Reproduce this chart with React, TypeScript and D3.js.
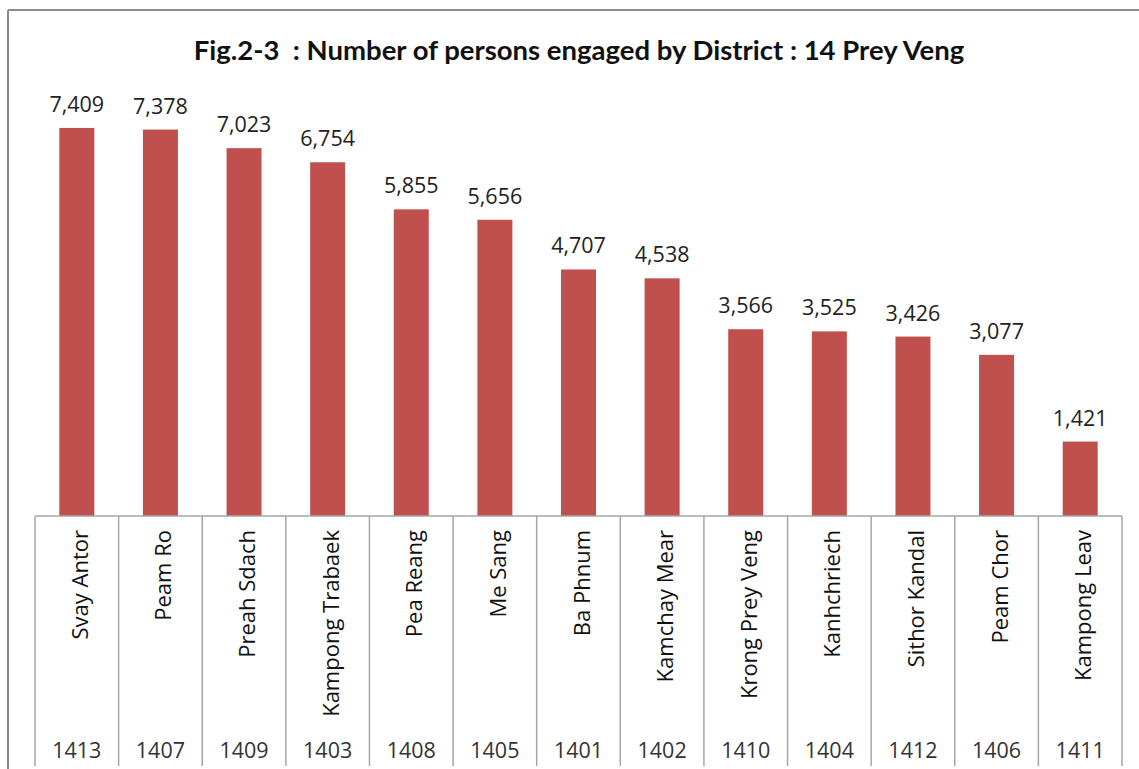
import React from "react";
import * as d3 from "d3";

const districts = [
  "Svay Antor", "Peam Ro", "Preah Sdach", "Kampong Trabaek", "Pea Reang", "Me Sang",
  "Ba Phnum", "Kamchay Mear", "Krong Prey Veng", "Kanhchriech", "Sithor Kandal", "Peam Chor", "Kampong Leav",
];
const codes = ["1413", "1407", "1409", "1403", "1408", "1405", "1401", "1402", "1410", "1404", "1412", "1406", "1411"];
const persons = [7409, 7378, 7023, 6754, 5855, 5656, 4707, 4538, 3566, 3525, 3426, 3077, 1421];
const title = "Fig.2-3  : Number of persons engaged by District : 14 Prey Veng";

const W = 1139;
const H = 769;
const TFONT = "Lato, 'Open Sans', sans-serif";
const FONT = "'Open Sans', Lato, sans-serif";

export default function App() {
  const x = d3.scaleBand<string>().domain(districts).range([35, 1122]).paddingInner(0).paddingOuter(0);
  const y = d3.scaleLinear().domain([0, 8000]).range([516, 97]);
  const barW = 35;
  const fmt = d3.format(",");
  const bw = x.bandwidth();
  const axisY = y(0);

  return (
    <svg width={W} height={H} style={{ position: "absolute", left: 0, top: 0, background: "#fff" }}>
      <rect x={0} y={0} width={W} height={H} fill="#fff" />
      <line x1={8} y1={10} x2={W} y2={10} stroke="#8a8a8a" strokeWidth={2} />
      <line x1={8} y1={10} x2={8} y2={H} stroke="#8a8a8a" strokeWidth={2} />
      <text
        x={579}
        y={60}
        textAnchor="middle"
        fontFamily={TFONT}
        fontWeight="bold"
        fontSize={27.5}
        fill="#111"
        style={{ whiteSpace: "pre" }}
      >
        {title}
      </text>
      {persons.map((v, i) => {
        const cx = (x(districts[i]) as number) + bw / 2;
        return (
          <g key={i}>
            <rect x={cx - barW / 2} y={y(v)} width={barW} height={axisY - y(v)} fill="#C0504D" />
            <text x={cx} y={y(v) - 16} textAnchor="middle" fontFamily={FONT} fontSize={21.5} fill="#222">
              {fmt(v)}
            </text>
          </g>
        );
      })}
      <line x1={35} y1={axisY} x2={1122} y2={axisY} stroke="#a6a6a6" strokeWidth={1.5} />
      {districts.map((d, i) => (
        <line key={"s" + i} x1={x(d) as number} y1={axisY} x2={x(d) as number} y2={766} stroke="#a6a6a6" strokeWidth={1.5} />
      ))}
      <line x1={1122} y1={axisY} x2={1122} y2={766} stroke="#a6a6a6" strokeWidth={1.5} />
      {districts.map((d, i) => {
        const cx = (x(d) as number) + bw / 2 + 2;
        return (
          <text
            key={"l" + i}
            transform={`translate(${cx},530) rotate(-90)`}
            textAnchor="end"
            dominantBaseline="central"
            fontFamily={FONT}
            fontSize={22}
            fill="#111"
          >
            {d}
          </text>
        );
      })}
      {codes.map((c, i) => (
        <text
          key={"c" + i}
          x={(x(districts[i]) as number) + bw / 2}
          y={758}
          textAnchor="middle"
          fontFamily={FONT}
          fontSize={21.5}
          fill="#333"
        >
          {c}
        </text>
      ))}
    </svg>
  );
}
